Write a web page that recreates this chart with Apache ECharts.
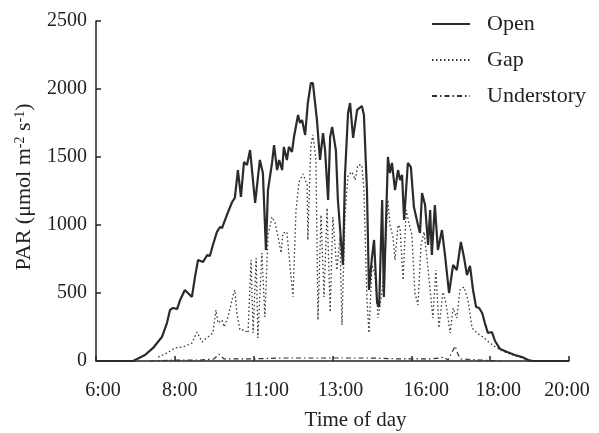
<!DOCTYPE html>
<html>
<head>
<meta charset="utf-8">
<script src="https://cdn.jsdelivr.net/npm/echarts@6/dist/echarts.min.js"></script>
<style>
  html, body { margin: 0; background: #fff; }
  #chart { width: 599px; height: 433px; }
</style>
</head>
<body>
<div id="chart"></div>
<script>
  // tick labels as printed under the axis (ticks are evenly spaced)
  const tickLabels = ['6:00', '8:00', '11:00', '13:00', '16:00', '18:00', '20:00']
  const yTicks = [0, 500, 1000, 1500, 2000, 2500]

  // time of day (h) and PAR (umol m-2 s-1)
  const openTime = [6.00, 7.10, 7.45, 7.69, 7.95, 8.10, 8.19, 8.28, 8.40, 8.49, 8.63, 8.72, 8.84, 8.93, 9.02, 9.17, 9.29, 9.37, 9.46, 9.58, 9.67, 9.73, 9.82, 9.91, 10.03, 10.11, 10.20, 10.29, 10.38, 10.47, 10.56, 10.71, 10.85, 10.94, 11.03, 11.09, 11.21, 11.27, 11.36, 11.42, 11.51, 11.56, 11.65, 11.71, 11.80, 11.86, 11.98, 12.04, 12.10, 12.19, 12.27, 12.36, 12.42, 12.54, 12.63, 12.72, 12.78, 12.87, 12.93, 12.99, 13.10, 13.16, 13.25, 13.31, 13.37, 13.46, 13.52, 13.61, 13.73, 13.87, 13.93, 14.02, 14.08, 14.17, 14.23, 14.32, 14.38, 14.47, 14.52, 14.64, 14.70, 14.76, 14.85, 14.94, 15.00, 15.06, 15.12, 15.23, 15.32, 15.41, 15.53, 15.59, 15.65, 15.74, 15.83, 15.89, 15.94, 16.03, 16.12, 16.24, 16.33, 16.45, 16.57, 16.68, 16.80, 16.89, 16.98, 17.07, 17.16, 17.25, 17.34, 17.43, 17.51, 17.60, 17.72, 17.81, 17.96, 18.17, 18.40, 18.61, 18.79, 18.93, 20.00]
  const openPar = [0, 0, 44, 96, 176, 279, 375, 390, 382, 449, 522, 500, 471, 618, 743, 728, 779, 772, 853, 949, 985, 978, 1037, 1096, 1169, 1199, 1404, 1206, 1463, 1441, 1551, 1162, 1478, 1382, 816, 1257, 1456, 1588, 1404, 1478, 1404, 1574, 1478, 1574, 1537, 1647, 1809, 1750, 1772, 1662, 1897, 2044, 2044, 1772, 1478, 1676, 1551, 1184, 1647, 1721, 1551, 1184, 890, 706, 1368, 1824, 1897, 1640, 1846, 1875, 1809, 1257, 522, 765, 890, 426, 397, 1184, 471, 1500, 1382, 1456, 1257, 1404, 1331, 1368, 1037, 1456, 1426, 1132, 1000, 941, 1235, 1147, 853, 1110, 779, 1147, 816, 963, 779, 500, 706, 669, 875, 765, 632, 699, 522, 397, 390, 353, 279, 206, 213, 147, 88, 66, 44, 29, 7, 0, 0]

  const gapTime = [7.84, 8.10, 8.34, 8.58, 8.84, 8.99, 9.14, 9.31, 9.46, 9.55, 9.61, 9.73, 9.79, 9.91, 10.06, 10.11, 10.17, 10.26, 10.38, 10.50, 10.59, 10.65, 10.74, 10.79, 10.91, 11.00, 11.09, 11.21, 11.30, 11.39, 11.48, 11.53, 11.65, 11.74, 11.83, 11.92, 12.01, 12.13, 12.25, 12.27, 12.36, 12.42, 12.51, 12.57, 12.66, 12.75, 12.84, 12.93, 13.01, 13.13, 13.22, 13.28, 13.37, 13.46, 13.58, 13.67, 13.75, 13.87, 13.93, 14.02, 14.08, 14.17, 14.26, 14.35, 14.47, 14.55, 14.64, 14.70, 14.79, 14.85, 14.94, 15.00, 15.09, 15.18, 15.26, 15.35, 15.44, 15.53, 15.62, 15.71, 15.80, 15.89, 15.97, 16.06, 16.15, 16.27, 16.36, 16.48, 16.57, 16.68, 16.77, 16.89, 17.01, 17.13, 17.28, 17.45, 17.66, 17.87, 18.11, 18.34, 18.61, 18.79, 18.93]
  const gapPar = [29, 59, 96, 103, 132, 213, 140, 176, 206, 375, 279, 301, 250, 324, 485, 522, 353, 228, 228, 206, 743, 206, 757, 169, 794, 324, 926, 1059, 1015, 912, 794, 941, 949, 706, 471, 1110, 1316, 1375, 1294, 890, 1588, 1662, 1478, 301, 1074, 471, 1125, 360, 1059, 669, 912, 265, 1074, 1368, 1390, 1331, 1441, 1441, 1257, 449, 206, 706, 632, 316, 522, 743, 1184, 1000, 912, 743, 1000, 978, 596, 1110, 1015, 926, 500, 412, 853, 949, 743, 522, 316, 669, 243, 507, 426, 206, 390, 316, 522, 544, 449, 243, 206, 176, 132, 96, 66, 44, 22, 7, 0]

  const underTime = [7.60, 8.34, 9.08, 9.49, 9.64, 9.79, 10.56, 11.45, 12.33, 13.22, 14.11, 15.00, 15.89, 16.18, 16.30, 16.42, 16.54, 16.63, 16.71, 16.80, 17.37, 17.96]
  const underPar = [0, 7, 7, 15, 51, 15, 15, 22, 22, 22, 22, 15, 15, 22, 29, 7, 66, 110, 51, 15, 7, 0]

  const START = 6   // axis starts at 6:00, drawn in minutes from there
  const toPts = (t, v) => t.map((h, i) => [Math.round((h - START) * 60 * 10) / 10, v[i]])

  const FONT = 'Liberation Serif, Times New Roman, serif'
  const INK = '#222'

  // labels sit a little off their ticks in the print
  const labelShift = [7, 5, 13, 8, 15, 8, -2]
  let rich = {}
  labelShift.forEach((s, i) => {
    rich['l' + i] = {
      fontFamily: FONT, fontSize: 20, color: INK,
      padding: [0, s < 0 ? -2 * s : 0, 0, s > 0 ? 2 * s : 0]
    }
  })

  let chart = echarts.init(document.getElementById('chart'))
  let option = {
    animation: false,
    backgroundColor: '#fff',
    grid: { left: 96, right: 30, top: 21, bottom: 72, containLabel: false, outerBoundsMode: 'none' },
    legend: {
      orient: 'vertical',
      left: 426,
      top: 8,
      itemWidth: 38,
      itemHeight: 14,
      itemGap: 14,
      itemStyle: { opacity: 0 },
      textStyle: { fontFamily: FONT, fontSize: 22, color: INK, padding: [0, 0, 0, 12] },
      data: ['Open', 'Gap', 'Understory']
    },
    xAxis: {
      type: 'value',
      min: 0,
      max: 840,
      interval: 140,
      splitLine: { show: false },
      axisLine: { lineStyle: { color: INK, width: 1.5 } },
      axisTick: { inside: true, length: 5, lineStyle: { color: INK, width: 1.5 } },
      axisLabel: {
        margin: 20,
        formatter: (v) => {
          let i = Math.round(v / 140)
          return '{l' + i + '|' + tickLabels[i] + '}'
        },
        rich: rich
      },
      name: 'Time of day',
      nameLocation: 'middle',
      nameGap: 49,
      nameTextStyle: { fontFamily: FONT, fontSize: 21, color: INK, padding: [0, 0, 0, 46] }
    },
    yAxis: {
      type: 'value',
      min: yTicks[0],
      max: yTicks[yTicks.length - 1],
      interval: 500,
      splitLine: { show: false },
      axisLine: { show: true, lineStyle: { color: INK, width: 1.5 } },
      axisTick: { show: true, inside: true, length: 5, lineStyle: { color: INK, width: 1.5 } },
      axisLabel: { margin: 9, fontFamily: FONT, fontSize: 20, color: INK, formatter: (v) => String(v) },
      name: 'PAR (μmol m{sup|-2} s{sup|-1})',
      nameLocation: 'middle',
      nameGap: 61,
      nameTextStyle: {
        fontFamily: FONT, fontSize: 22, color: INK, padding: [0, 0, 0, 8],
        rich: {
          sup: { fontFamily: FONT, fontSize: 14, color: INK, verticalAlign: 'top', padding: [0, 0, 8, 0] }
        }
      }
    },
    series: [
      {
        name: 'Open',
        type: 'line',
        symbol: 'none',
        data: toPts(openTime, openPar),
        lineStyle: { color: '#2b2b2b', width: 2.2 },
        itemStyle: { color: '#2b2b2b' },
        z: 3
      },
      {
        name: 'Gap',
        type: 'line',
        symbol: 'none',
        data: toPts(gapTime, gapPar),
        lineStyle: { color: '#333', width: 1.3, type: [1.5, 2.5] },
        itemStyle: { color: '#333' },
        z: 2
      },
      {
        name: 'Understory',
        type: 'line',
        symbol: 'none',
        data: toPts(underTime, underPar),
        lineStyle: { color: '#333', width: 1.2, type: [5, 3, 1.5, 3] },
        itemStyle: { color: '#333' },
        z: 1
      }
    ]
  }
  chart.setOption(option)
</script>
</body>
</html>
